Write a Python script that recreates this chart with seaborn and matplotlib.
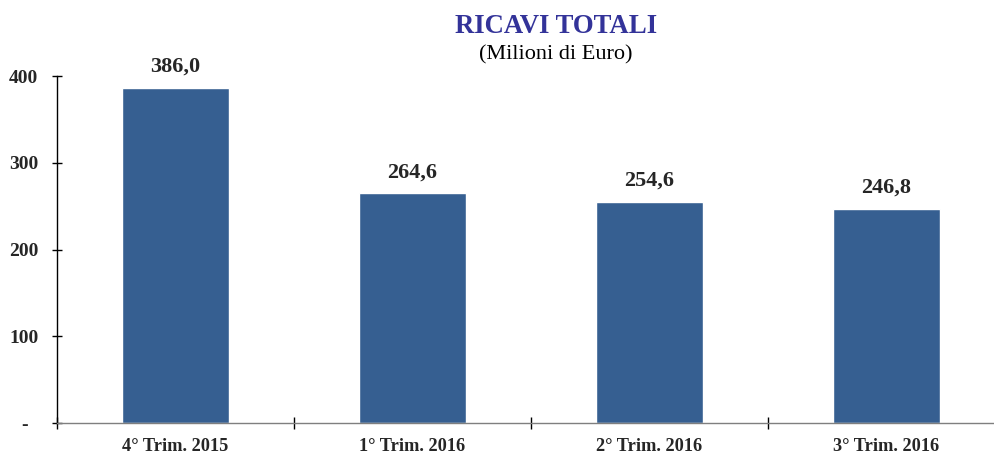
import numpy as np
import pandas as pd
import matplotlib
matplotlib.use("Agg")
import matplotlib.pyplot as plt
import seaborn as sns

# data
trimestri = ["4° Trim. 2015", "1° Trim. 2016", "2° Trim. 2016", "3° Trim. 2016"]
ricavi = [386.0, 264.6, 254.6, 246.8]
etichette = ["386,0", "264,6", "254,6", "246,8"]
yticks = [0, 100, 200, 300, 400]
ytick_labels = ["-  ", "100", "200", "300", "400"]

sns.set_style("white")
plt.rcParams["font.family"] = ["Liberation Serif", "DejaVu Serif"]

df = pd.DataFrame({"trimestre": trimestri, "ricavi": ricavi})

fig = plt.figure(figsize=(9.94, 4.54), dpi=100)
ax = fig.add_axes([57 / 994, 1 - 423 / 454, 948 / 994, 347 / 454])

sns.barplot(data=df, x="trimestre", y="ricavi", color="#365F91", width=0.45,
            saturation=1, ax=ax)

ax.set_xlim(-0.5, 3.5)
ax.set_ylim(0, 400)
ax.set_xlabel("")
ax.set_ylabel("")

# value labels above bars
for i, (v, t) in enumerate(zip(ricavi, etichette)):
    ax.annotate(t, (i, v), xytext=(0, 8), textcoords="offset points",
                ha="center", va="bottom", fontsize=16, fontweight="bold")

# axes styling
for s in ["top", "right"]:
    ax.spines[s].set_visible(False)
ax.spines["left"].set_color("black")
ax.spines["left"].set_linewidth(1.0)
ax.spines["bottom"].set_color("#7f7f7f")
ax.spines["bottom"].set_linewidth(1.0)

ax.set_yticks(yticks)
ax.set_yticklabels(ytick_labels, fontsize=14, fontweight="bold")
ax.tick_params(axis="y", direction="inout", length=7, width=1, color="black",
               pad=10, left=True)

ax.set_xticks(range(len(trimestri)))
ax.set_xticklabels(trimestri, fontsize=13.2, fontweight="bold")
ax.tick_params(axis="x", which="major", length=0, pad=11)
ax.set_xticks(np.arange(-0.5, 4.0, 1.0), minor=True)
ax.tick_params(axis="x", which="minor", direction="inout", length=9, width=1,
               color="black", bottom=True)

# titles
fig.text(556 / 994, 1 - 33 / 454, "RICAVI TOTALI", ha="center", va="baseline",
         fontsize=19.3, fontweight="bold", color="#333399")
fig.text(556 / 994, 1 - 59 / 454, "(Milioni di Euro)", ha="center", va="baseline",
         fontsize=16, color="black")

fig.savefig("out.png", dpi=100)
